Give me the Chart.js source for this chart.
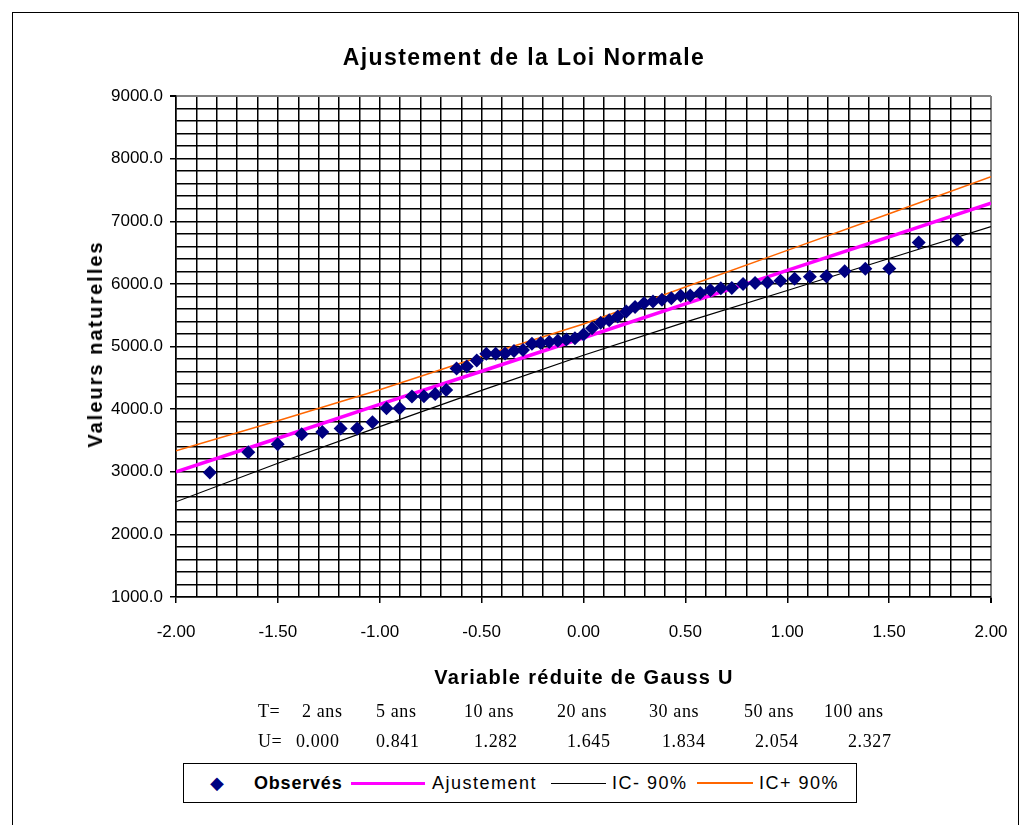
<!DOCTYPE html>
<html><head><meta charset="utf-8">
<script src="https://cdn.jsdelivr.net/npm/chart.js@4.4.1/dist/chart.umd.min.js"></script>
<style>
html,body{margin:0;padding:0;background:#fff;}
#wrap{position:relative;width:1031px;height:825px;overflow:hidden;background:#fff;}
#frame{position:absolute;left:12px;top:12px;width:1007px;height:840px;border:1.5px solid #000;box-sizing:border-box;}
#c{position:absolute;left:0;top:0;}
.t{position:absolute;color:#000;white-space:nowrap;line-height:1;}
.sans{font-family:"Liberation Sans",Arial,sans-serif;}
.serif{font-family:"Liberation Serif","Times New Roman",serif;font-size:18px;letter-spacing:0.6px;}
.b{font-weight:bold;}
.cc{transform:translate(-50%,-50%);}
.vy{transform:translate(-50%,-50%) rotate(-90deg);}
.row{transform:translateY(-50%);}
#legend{position:absolute;left:183px;top:763px;width:674px;height:40px;border:1.5px solid #000;box-sizing:border-box;background:#fff;}
#legend .it{position:absolute;top:50%;transform:translateY(-50%);font-family:"Liberation Sans",Arial,sans-serif;font-size:18px;letter-spacing:1.5px;line-height:1;}
#legend .ln{position:absolute;top:50%;}
</style>
</head><body>
<div id="wrap">
<div id="frame"></div>
<canvas id="c" width="1031" height="825"></canvas>
<div class="t sans b cc" style="left:524px;top:57px;font-size:23px;letter-spacing:1.4px;">Ajustement de la Loi Normale</div>
<div class="t sans b vy" style="left:95px;top:344px;font-size:20px;letter-spacing:2px;">Valeurs naturelles</div>
<div class="t sans b cc" style="left:584px;top:677px;font-size:20px;letter-spacing:1.3px;">Variable réduite de Gauss U</div>
<div id="trow"></div>
<div id="legend">
  <div class="it" style="left:26px;color:#000080;font-size:18px;">&#9670;</div>
  <div class="it b" style="left:70px;letter-spacing:0.8px;">Observés</div>
  <div class="ln" style="left:167px;width:74px;height:3px;margin-top:-1.5px;background:#ff00ff;"></div>
  <div class="it" style="left:248px;">Ajustement</div>
  <div class="ln" style="left:367px;width:55px;height:1px;margin-top:-0.5px;background:#000;"></div>
  <div class="it" style="left:428px;">IC- 90%</div>
  <div class="ln" style="left:513px;width:56px;height:2px;margin-top:-1px;background:#ff6600;"></div>
  <div class="it" style="left:575px;">IC+ 90%</div>
</div>
</div>
<script>
// ---- data ----
const uObs = [-1.834,-1.645,-1.501,-1.383,-1.282,-1.192,-1.111,-1.036,-0.967,-0.903,-0.842,-0.783,-0.728,-0.674,-0.623,-0.573,-0.524,-0.477,-0.431,-0.385,-0.341,-0.297,-0.253,-0.210,-0.168,-0.126,-0.084,-0.042,0.000,0.042,0.084,0.126,0.168,0.210,0.253,0.297,0.341,0.385,0.431,0.477,0.524,0.573,0.623,0.674,0.728,0.783,0.842,0.903,0.967,1.036,1.111,1.192,1.282,1.383,1.501,1.645,1.834];
const vObs = [2990,3310,3440,3600,3635,3690,3692,3790,4015,4015,4200,4205,4240,4305,4650,4680,4775,4885,4885,4888,4930,4945,5045,5055,5070,5090,5110,5130,5190,5290,5380,5420,5480,5560,5630,5690,5720,5745,5770,5810,5815,5855,5900,5930,5935,6000,6015,6020,6050,6080,6115,6120,6200,6240,6245,6660,6700];
const uLine = [-2,-1.5,-1,-0.5,0,0.5,1,1.5,2];
const vFit = [3000,3535,4075,4605,5140,5680,6215,6750,7290];
const vICm = [2520,3135,3720,4300,4860,5390,5895,6405,6915];
const vICp = [3335,3815,4310,4845,5360,5950,6535,7120,7710];
const periodLabels = ["T=","2 ans","5 ans","10 ans","20 ans","30 ans","50 ans","100 ans"];
const uLabels = ["U=","0.000","0.841","1.282","1.645","1.834","2.054","2.327"];
const seriesNames = ["Observés","Ajustement","IC- 90%","IC+ 90%"];

// T / U rows
const tX = [258,302,376,464,557,649,744,824];
const uX = [258,296,376,474,567,662,755,848];
const tr = document.getElementById('trow');
periodLabels.forEach((s,i)=>{const d=document.createElement('div');d.className='t serif row';d.style.left=tX[i]+'px';d.style.top='711px';d.textContent=s;tr.appendChild(d);});
uLabels.forEach((s,i)=>{const d=document.createElement('div');d.className='t serif row';d.style.left=uX[i]+'px';d.style.top='741px';d.textContent=s;tr.appendChild(d);});

const pts = (xs,ys)=>xs.map((x,i)=>({x:x,y:ys[i]}));
const isMajX = v => Math.round(v*10) % 5 === 0;
const isMajY = v => Math.round(v) % 1000 === 0;

new Chart(document.getElementById('c'), {
  type:'scatter',
  data:{datasets:[
    {label:seriesNames[0],data:pts(uObs,vObs),pointStyle:'rectRot',pointRadius:7,pointBackgroundColor:'#000080',pointBorderColor:'#000080',borderWidth:0,showLine:false},
    {label:seriesNames[1],data:pts(uLine,vFit),showLine:true,borderColor:'#ff00ff',borderWidth:3.5,pointRadius:0,tension:0},
    {label:seriesNames[2],data:pts(uLine,vICm),showLine:true,borderColor:'#000000',borderWidth:1.2,pointRadius:0,tension:0},
    {label:seriesNames[3],data:pts(uLine,vICp),showLine:true,borderColor:'#ff6600',borderWidth:1.5,pointRadius:0,tension:0}
  ]},
  options:{
    responsive:false,animation:false,
    layout:{padding:{left:20,right:40,top:96,bottom:178}},
    plugins:{legend:{display:false},title:{display:false},tooltip:{enabled:false}},
    scales:{
      x:{type:'linear',min:-2,max:2,
        afterFit:s=>{s.height=50;},
        ticks:{stepSize:0.1,autoSkip:false,maxRotation:0,color:'#000',padding:19,font:{family:'"Liberation Sans", Arial, sans-serif',size:17},
          callback:v=>isMajX(v)?v.toFixed(2):''},
        grid:{color:c=>(c.tick&&Math.abs(c.tick.value-2)<1e-6)?'#808080':'#000',lineWidth:c=>(c.tick&&Math.abs(c.tick.value-2)<1e-6)?2:1.5,
          tickColor:c=>(c.tick&&isMajX(c.tick.value))?'#000':'rgba(0,0,0,0)',tickLength:6,drawTicks:true},
        border:{display:true,color:'#000',width:1.5}
      },
      y:{type:'linear',min:1000,max:9000,
        afterFit:s=>{s.width=156;},
        ticks:{stepSize:200,autoSkip:false,color:'#000',padding:7,font:{family:'"Liberation Sans", Arial, sans-serif',size:17},
          callback:v=>isMajY(v)?v.toFixed(1):''},
        grid:{color:c=>(c.tick&&c.tick.value===9000)?'#808080':'#000',lineWidth:c=>(c.tick&&c.tick.value===9000)?2:1.5,
          tickColor:c=>(c.tick&&isMajY(c.tick.value))?'#000':'rgba(0,0,0,0)',tickLength:6,drawTicks:true},
        border:{display:true,color:'#000',width:1.5}
      }
    }
  }
});
</script>
</body></html>
